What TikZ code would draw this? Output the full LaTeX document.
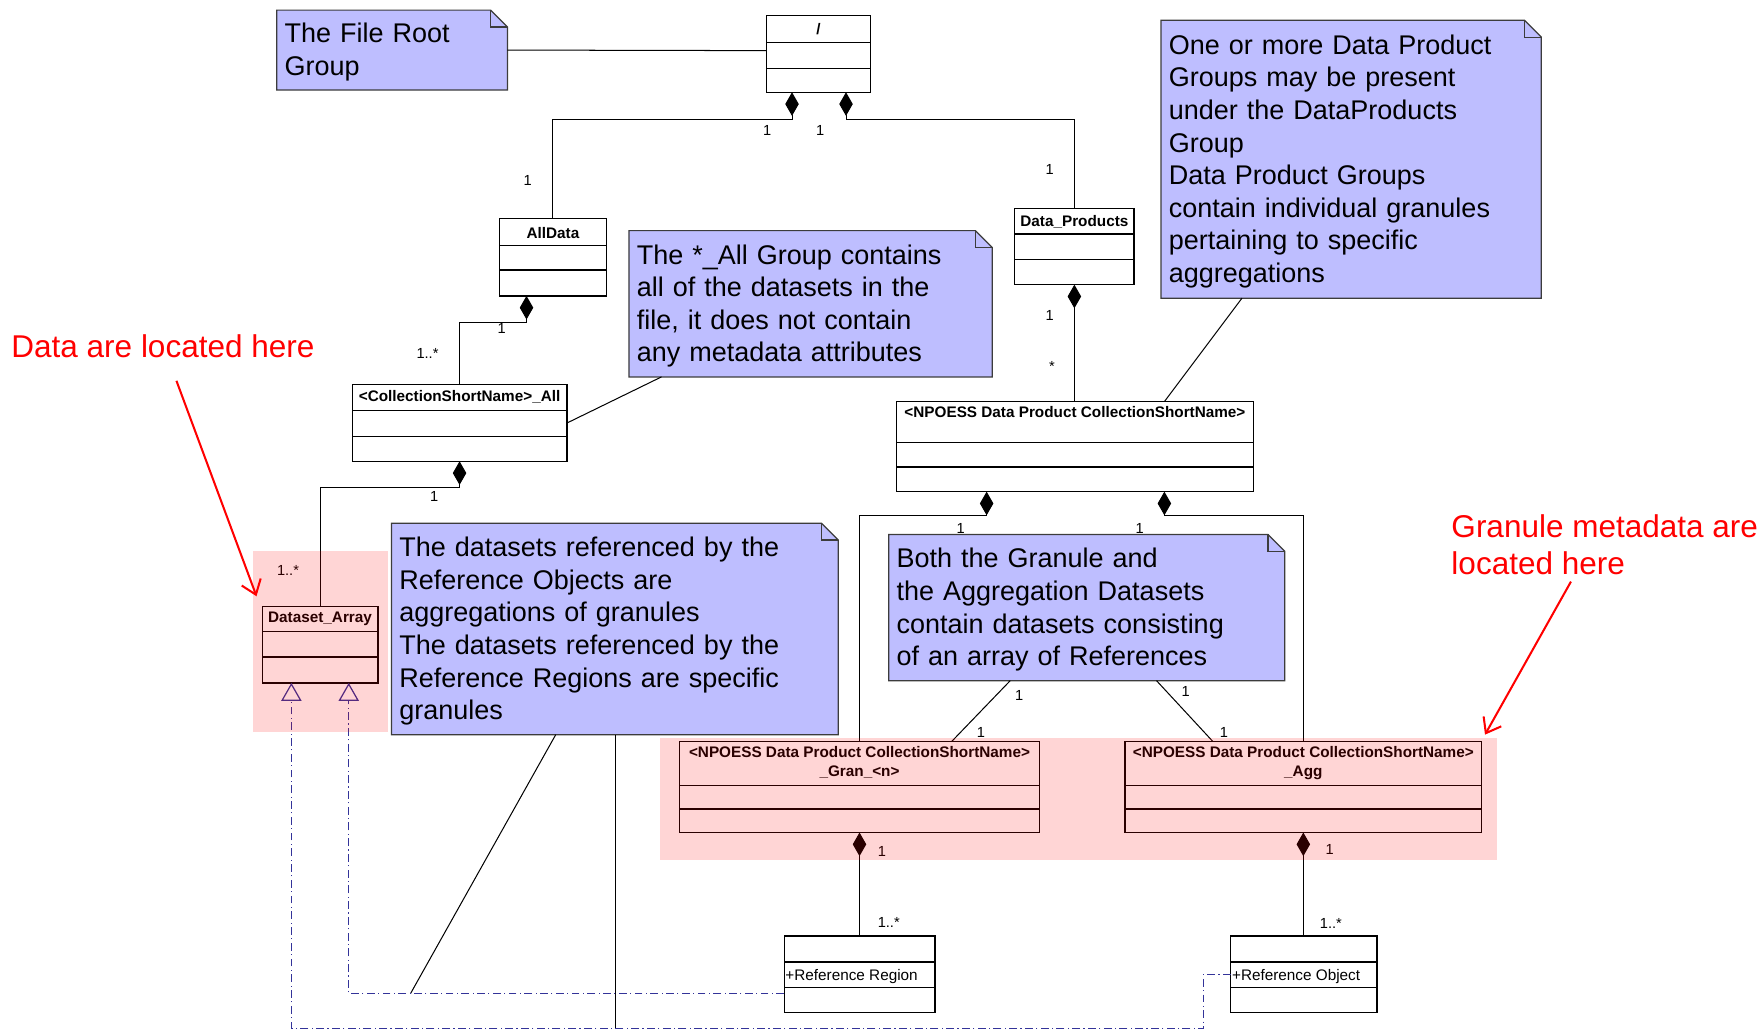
\documentclass[tikz,border=0pt]{standalone}
\usepackage{fontspec}
\setmainfont{Liberation Sans}
\usetikzlibrary{arrows.meta,calc}
\definecolor{notefill}{RGB}{190,190,255}
\definecolor{noteline}{RGB}{60,60,60}
\definecolor{realcol}{RGB}{51,51,153}
\tikzset{
  classbox/.style={draw=black, line width=1.1pt, fill=white, inner sep=0pt, outer sep=0pt},
  classline/.style={draw=black, line width=1.1pt},
  classtitle/.style={font=\fontsize{13.6}{17}\selectfont\bfseries, inner sep=0pt, align=center},
  attrtext/.style={font=\fontsize{13.6}{16}\selectfont, inner sep=1pt, anchor=west},
  notebody/.style={draw=noteline, fill=notefill, line width=1.1pt, line join=miter},
  notetext/.style={font=\fontsize{24}{29}\selectfont, align=left, inner xsep=7pt, inner ysep=0pt, outer sep=0pt},
  assoc/.style={draw=black, line width=0.9pt},
  comp/.style={assoc, {Diamond[length=21pt,width=12pt]}-},
  real/.style={draw=realcol, line width=0.9pt, dash pattern=on 7pt off 3pt on 1pt off 3pt, -{Triangle[open,length=16pt,width=18pt,line width=1.1pt]}},
  mult/.style={font=\fontsize{13}{15}\selectfont, inner sep=0pt},
  hilite/.style={fill=red, fill opacity=0.165, inner sep=0pt, outer sep=0pt},
  redtext/.style={text=red, font=\fontsize{28}{33}\selectfont, inner sep=0pt, align=left},
  redarrow/.style={draw=red, line width=1.8pt, -{Straight Barb[length=12pt,width=18pt]}}
}
\newcommand\umlclass[9]{%
  \node[classbox, anchor=north west, minimum width={#4-#2}, minimum height={#5-#3}] (#1) at (#2,#3) {};
  \draw[classline] (#2,#6) -- (#4,#6) (#2,#7) -- (#4,#7);
  \node[classtitle] (#1-title) at ({(#2+#4)/2},#8) {#9};
}
% note outline: name, x1, y1, x2, y2
\newcommand\notebox[5]{%
  \filldraw[notebody] (#2,#3) -- ({#4-15},#3) -- (#4,{#3+15}) -- (#4,#5) -- (#2,#5) -- cycle;
  \draw[notebody, fill=none] ({#4-15},#3) -- ({#4-15},{#3+15}) -- (#4,{#3+15});
  \node[inner sep=0pt, outer sep=0pt, anchor=north west, minimum width={#4-#2}, minimum height={#5-#3}] (#1) at (#2,#3) {};
}
\newcommand\mult[4]{\node[mult] (#1) at (#2,#3) {#4};}
\begin{document}
\begin{tikzpicture}[x=1pt, y=-1pt]
\useasboundingbox (0,0) rectangle (1568,916);

% notes
\notebox{note1}{246}{9}{451}{80}
\node[notetext, text width=191pt] (note1-text) at ([yshift=-2pt]note1.center) {The File Root\\Group};
\notebox{note2}{559}{205}{882}{335}
\node[notetext, text width=309pt] (note2-text) at ([yshift=-2pt]note2.center) {The *\_All Group contains\\all of the datasets in the\\file, it does not contain\\any metadata attributes};
\notebox{note3}{348}{465}{745}{653}
\node[notetext, text width=383pt] (note3-text) at ([yshift=-2pt]note3.center) {The datasets referenced by the\\Reference Objects are\\aggregations of granules\\The datasets referenced by the\\Reference Regions are specific\\granules};
\notebox{note4}{1032}{18}{1370}{265}
\node[notetext, text width=324pt] (note4-text) at ([yshift=-2pt]note4.center) {One or more Data Product\\Groups may be present\\under the DataProducts\\Group\\Data Product Groups\\contain individual granules\\pertaining to specific\\aggregations};
\notebox{note5}{790}{475}{1142}{605}
\node[notetext, text width=338pt] (note5-text) at ([yshift=-2pt]note5.center) {Both the Granule and\\the Aggregation Datasets\\contain datasets consisting\\of an array of References};

% classes
\umlclass{root}{681}{14}{774}{82}{38}{61}{26}{/}
\umlclass{alldata}{444}{194}{539}{263}{218}{240}{207}{AllData}
\umlclass{dataprod}{902}{185}{1008}{253}{208}{231}{197}{Data\_Products}
\umlclass{all}{313}{342}{504}{410}{365}{388}{353}{<CollectionShortName>\_All}
\umlclass{dsarray}{233}{539}{336}{607}{561}{584}{550}{Dataset\_Array}
\umlclass{npoess}{797}{357}{1114}{437}{393}{415}{366}{<NPOESS Data Product CollectionShortName>}
\umlclass{gran}{604}{659}{924}{740}{698}{719}{678}{<NPOESS Data Product CollectionShortName>\\\_Gran\_<n>}
\umlclass{agg}{1000}{659}{1317}{740}{698}{719}{678}{<NPOESS Data Product CollectionShortName>\\\_Agg}
\umlclass{refreg}{697}{832}{831}{900}{855}{878}{843}{}
\umlclass{refobj}{1094}{832}{1224}{900}{855}{878}{843}{}
\node[attrtext] (refreg-attr) at ([yshift=-2pt]refreg.west) {+Reference Region};
\node[attrtext] (refobj-attr) at ([yshift=-2pt]refobj.west) {+Reference Object};

% note attachments
\draw[assoc] (note1.east) -- ([yshift=3pt]root.west);
\draw[assoc] ([xshift=29pt]note2.south west) -- (all.east);
\draw[assoc] ([xshift=72pt]note4.south west) -- ([xshift=79.5pt]npoess.north);
\draw[assoc] ([xshift=108pt]note5.south west) -- ([xshift=82pt]gran.north);
\draw[assoc] ([xshift=238pt]note5.south west) -- ([xshift=-80.5pt]agg.north);
\coordinate (att1) at (365,883);
\coordinate (att2) at (547,914);
\draw[assoc] ([xshift=146pt]note3.south west) -- (att1);
\draw[assoc] ([xshift=199pt]note3.south west) -- (att2);

% compositions
\draw[comp] ([xshift=-23.5pt]root.south) -- ++(0,24) -| (alldata.north);
\draw[comp] ([xshift=24.5pt]root.south) -- ++(0,24) -| (dataprod.north);
\draw[comp] ([xshift=-23.5pt]alldata.south) -- ++(0,24) -| (all.north);
\draw[comp] (all.south) -- ++(0,23) -| (dsarray.north);
\draw[comp] (dataprod.south) -- (dataprod.south |- npoess.north);
\draw[comp] ([xshift=-78.5pt]npoess.south) -- ++(0,21) -| (gran.north);
\draw[comp] ([xshift=79.5pt]npoess.south) -- ++(0,21) -| (agg.north);
\draw[comp] (gran.south) -- (gran.south |- refreg.north);
\draw[comp] (agg.south) -- (agg.south |- refobj.north);

% realizations
\draw[real] ([yshift=-17pt]refreg.west) -| ([xshift=25.5pt]dsarray.south);
\draw[real] (refobj.west) -- ++(-24,0) -- ++(0,48) -| ([xshift=-25.5pt]dsarray.south);

% multiplicities
\mult{m1}{682}{116}{1}
\mult{m2}{729}{116}{1}
\mult{m3}{469}{160}{1}
\mult{m4}{933}{151}{1}
\mult{m5}{446}{292}{1}
\mult{m6}{380}{314}{1..*}
\mult{m7}{386}{441}{1}
\mult{m8}{256}{507}{1..*}
\mult{m9}{933}{280}{1}
\mult{m10}{935}{326}{*}
\mult{m11}{854}{470}{1}
\mult{m12}{1013}{470}{1}
\mult{m13}{906}{618}{1}
\mult{m14}{872}{651}{1}
\mult{m15}{1054}{615}{1}
\mult{m16}{1088}{651}{1}
\mult{m17}{784}{757}{1}
\mult{m18}{790}{820}{1..*}
\mult{m19}{1182}{755}{1}
\mult{m20}{1183}{821}{1..*}

% highlights
\node[hilite, anchor=north west, minimum width=120, minimum height=161] (hl1) at (225,490) {};
\node[hilite, anchor=north west, minimum width=744, minimum height=108] (hl2) at (587,656) {};

% red annotations
\node[redtext, anchor=west] (redA) at (10,308) {Data are located here};
\node[redtext, anchor=west] (redB) at (1290,484) {Granule metadata are\\located here};
\draw[redarrow] ([xshift=12pt,yshift=-20pt]redA.south) -- ([xshift=3pt,yshift=-40pt]hl1.north west);
\draw[redarrow] ([xshift=-30pt,yshift=-6pt]redB.south) -- ([xshift=-11pt,yshift=3pt]hl2.north east);
\end{tikzpicture}
\end{document}
